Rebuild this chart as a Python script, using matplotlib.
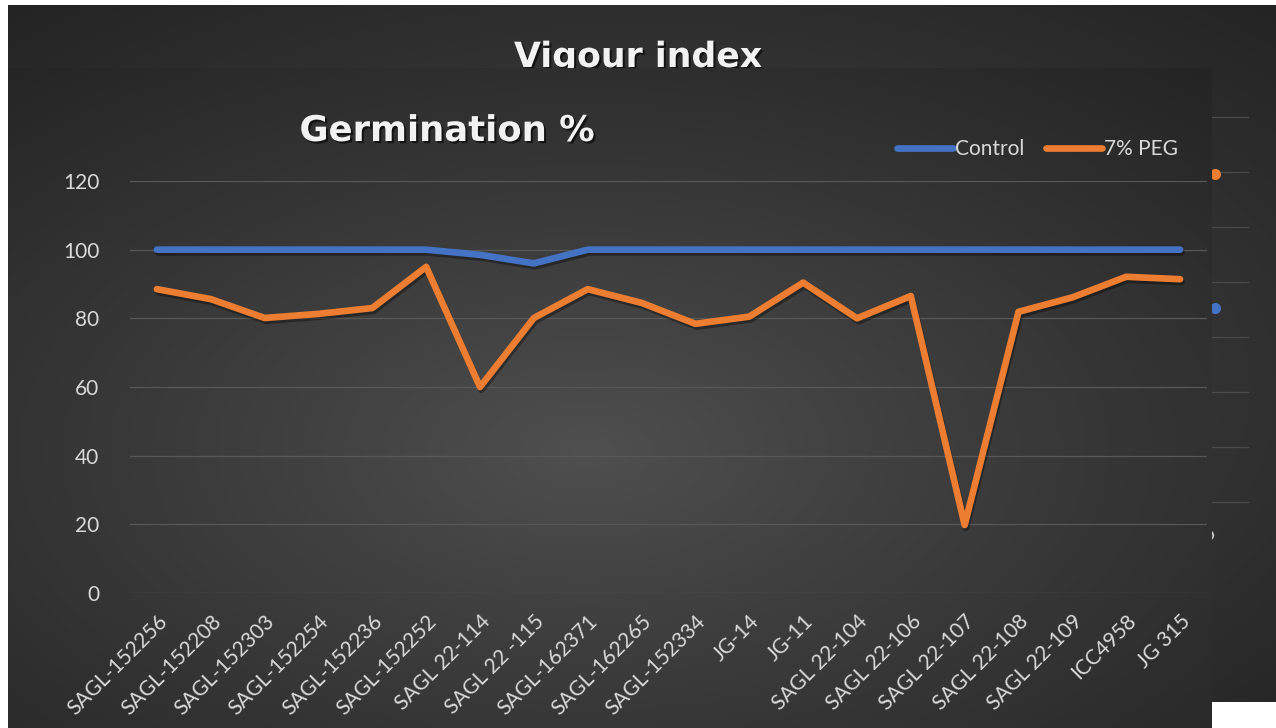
import numpy as np
import matplotlib
matplotlib.use('Agg')
import matplotlib.pyplot as plt
from matplotlib import patheffects as pe
from matplotlib.lines import Line2D

# ---------------- data ----------------
genotypes = ['SAGL-152256', 'SAGL-152208', 'SAGL-152303', 'SAGL-152254', 'SAGL-152236',
             'SAGL-152252', 'SAGL 22-114', 'SAGL 22 -115', 'SAGL-162371', 'SAGL-162265',
             'SAGL-152334', 'JG-14', 'JG-11', 'SAGL 22-104', 'SAGL 22-106',
             'SAGL 22-107', 'SAGL 22-108', 'SAGL 22-109', 'ICC4958', 'JG 315']
control = [100, 100, 100, 100, 100, 100, 98.5, 96, 100, 100,
           100, 100, 100, 100, 100, 100, 100, 100, 100, 100]
peg7 = [88.5, 85.6, 80.1, 81.3, 83.0, 95.0, 60.0, 80.1, 88.5, 84.5,
        78.4, 80.5, 90.4, 80.0, 86.5, 19.8, 81.9, 86.1, 92.1, 91.4]
series_names = ['Control', '7% PEG']
y_ticks = [0, 20, 40, 60, 80, 100, 120]

# background (partly hidden) "Vigour index" chart: only its last points show
vigour_last = [1764, 2982]          # Control, 7% PEG at last genotype
vigour_ticks = [0, 500, 1000, 1500, 2000, 2500, 3000, 3500]

# ---------------- style ----------------
W, H = 1276, 728
BLUE = '#4472C4'
ORANGE = '#ED7D31'
TXT = '#d9d9d9'
GRID = '#585858'
FONT = 'Lato'


def px(l, t, r, b):
    return [l / W, 1 - b / H, (r - l) / W, (b - t) / H]


def radial(ax, cx, cy, inner, outer, gamma=0.9):
    yy, xx = np.mgrid[0:1:300j, 0:1:400j]
    d = np.sqrt((xx - cx) ** 2 + (yy - cy) ** 2)
    d = d / d.max()
    d = np.clip(d, 0, 1) ** gamma
    inner = np.array(inner) / 255.0
    outer = np.array(outer) / 255.0
    img = inner[None, None, :] + (outer - inner)[None, None, :] * d[:, :, None]
    ax.imshow(img, extent=[0, 1, 0, 1], aspect='auto', origin='upper',
              interpolation='bilinear')
    ax.set_xlim(0, 1)
    ax.set_ylim(0, 1)
    ax.axis('off')


fig = plt.figure(figsize=(W / 100, H / 100), dpi=100, facecolor='white')

# ---- background chart (Vigour index) ----
bg = fig.add_axes(px(8, 5, 1276, 702), zorder=0)
radial(bg, 0.5, 0.55, (76, 76, 76), (36, 36, 36))
title_fx = [pe.SimplePatchShadow(offset=(1.5, -1.5), shadow_rgbFace='black', alpha=0.6),
            pe.Normal()]
bg.text(638 / W, 1 - 67 / H, 'Vigour index', transform=fig.transFigure,
        ha='center', va='baseline', fontsize=25, fontweight='bold',
        family='DejaVu Sans', color='#f2f2f2', path_effects=title_fx)
bg.text(1209 / W, 1 - 533 / H, '5', transform=fig.transFigure, rotation=45,
        ha='center', va='center', fontsize=15, family=FONT, color=TXT)

vg = fig.add_axes(px(130, 117, 1248, 502), zorder=0.5)
vg.patch.set_visible(False)
vg.set_xlim(-0.5, 19.6)
vg.set_ylim(0, 3500)
for t in vigour_ticks:
    vg.axhline(t, color='#4a4a4a', lw=0.9, clip_on=False)
for val, col in zip(vigour_last, [BLUE, ORANGE]):
    vg.plot([len(genotypes) - 1], [val], 'o', color=col, ms=8, mec='none')
for s in vg.spines.values():
    s.set_visible(False)
vg.set_xticks([])
vg.set_yticks([])

# ---- front chart (Germination %) ----
fr = fig.add_axes(px(8, 68, 1212, 728), zorder=1)
radial(fr, 0.48, 0.58, (80, 80, 80), (36, 36, 36))

ax = fig.add_axes(px(130, 181, 1207, 593), zorder=2)
ax.patch.set_visible(False)
x = np.arange(len(genotypes))
line_fx = [pe.SimpleLineShadow(offset=(1.0, -2.0), shadow_color='black', alpha=0.35),
           pe.Normal()]
ax.plot(x, control, color=BLUE, lw=4.8, solid_capstyle='round',
        solid_joinstyle='round', path_effects=line_fx, clip_on=False, zorder=3)
ax.plot(x, peg7, color=ORANGE, lw=4.8, solid_capstyle='round',
        solid_joinstyle='round', path_effects=line_fx, clip_on=False, zorder=4)

ax.set_xlim(-0.5, len(genotypes) - 0.5)
ax.set_ylim(0, 120)
ax.set_yticks(y_ticks)
ax.set_yticklabels([str(v) for v in y_ticks], family=FONT, fontsize=15, color=TXT)
ax.set_xticks(x)
ax.set_xticklabels(genotypes, rotation=45, ha='right', va='top',
                   rotation_mode='anchor', family=FONT, fontsize=15, color=TXT)
ax.tick_params(axis='both', length=0)
ax.tick_params(axis='y', pad=22)
ax.tick_params(axis='x', pad=13)
ax.grid(axis='y', color=GRID, lw=0.9)
ax.set_axisbelow(True)
for s in ax.spines.values():
    s.set_visible(False)

fig.text(447 / W, 1 - 141 / H, 'Germination %', ha='center', va='baseline',
         fontsize=25.5, fontweight='bold', family='DejaVu Sans', color='#f2f2f2',
         path_effects=title_fx, zorder=5)

handles = [Line2D([], [], color=BLUE, lw=4.8, solid_capstyle='round'),
           Line2D([], [], color=ORANGE, lw=4.8, solid_capstyle='round')]
ax.legend(handles, series_names, loc='center right',
          bbox_to_anchor=(1178 / W, 1 - 149 / H), bbox_transform=fig.transFigure,
          ncol=2, frameon=False, handlelength=2.7, handletextpad=0.1,
          columnspacing=1.0, borderpad=0, borderaxespad=0,
          labelcolor=TXT, prop={'family': FONT, 'size': 15})

fig.savefig('out.png', dpi=100, facecolor='white')
